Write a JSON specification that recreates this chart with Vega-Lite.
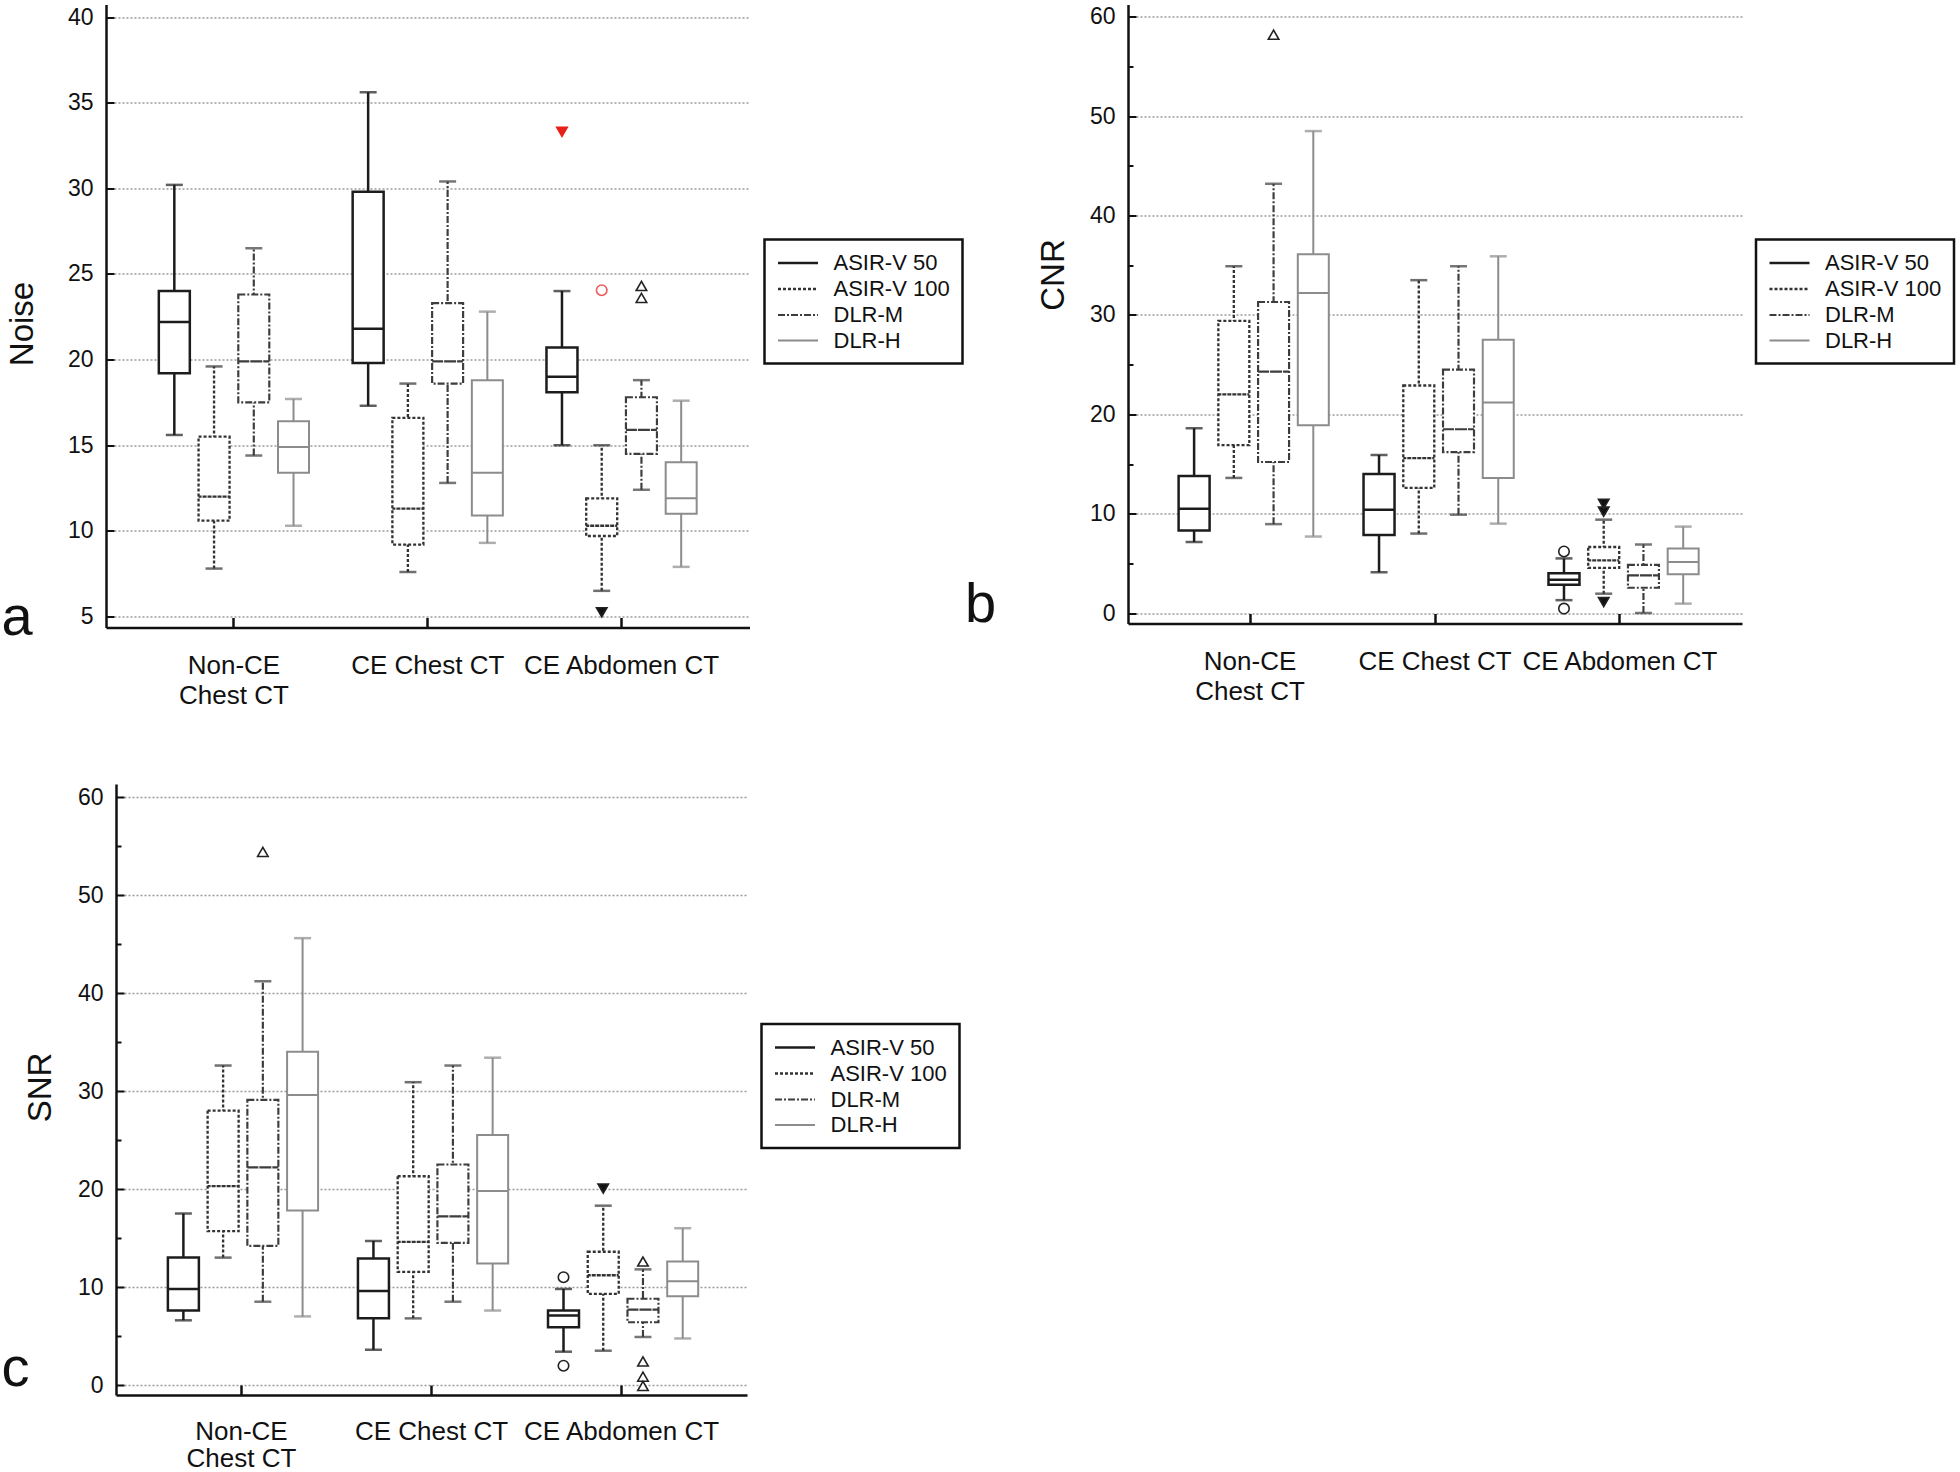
{
  "$schema": "https://vega.github.io/schema/vega-lite/v6.json",
  "background": "white",
  "padding": {"left": 1, "top": 4.5, "right": 0, "bottom": 0},
  "datasets": {
    "boxes": [
      {"panel": "a", "group": "Non-CE Chest CT", "method": "ASIR-V 50", "lo": 15.6, "q1": 19.2, "med": 22.2, "q3": 24.0, "hi": 30.2},
      {"panel": "a", "group": "Non-CE Chest CT", "method": "ASIR-V 100", "lo": 7.8, "q1": 10.6, "med": 12.0, "q3": 15.5, "hi": 19.6},
      {"panel": "a", "group": "Non-CE Chest CT", "method": "DLR-M", "lo": 14.4, "q1": 17.5, "med": 19.9, "q3": 23.8, "hi": 26.5},
      {"panel": "a", "group": "Non-CE Chest CT", "method": "DLR-H", "lo": 10.3, "q1": 13.4, "med": 14.9, "q3": 16.4, "hi": 17.7},
      {"panel": "a", "group": "CE Chest CT", "method": "ASIR-V 50", "lo": 17.3, "q1": 19.8, "med": 21.8, "q3": 29.8, "hi": 35.6},
      {"panel": "a", "group": "CE Chest CT", "method": "ASIR-V 100", "lo": 7.6, "q1": 9.2, "med": 11.3, "q3": 16.6, "hi": 18.6},
      {"panel": "a", "group": "CE Chest CT", "method": "DLR-M", "lo": 12.8, "q1": 18.6, "med": 19.9, "q3": 23.3, "hi": 30.4},
      {"panel": "a", "group": "CE Chest CT", "method": "DLR-H", "lo": 9.3, "q1": 10.9, "med": 13.4, "q3": 18.8, "hi": 22.8},
      {"panel": "a", "group": "CE Abdomen CT", "method": "ASIR-V 50", "lo": 15.0, "q1": 18.1, "med": 19.0, "q3": 20.7, "hi": 24.0},
      {"panel": "a", "group": "CE Abdomen CT", "method": "ASIR-V 100", "lo": 6.5, "q1": 9.7, "med": 10.3, "q3": 11.9, "hi": 15.0},
      {"panel": "a", "group": "CE Abdomen CT", "method": "DLR-M", "lo": 12.4, "q1": 14.5, "med": 15.9, "q3": 17.8, "hi": 18.8},
      {"panel": "a", "group": "CE Abdomen CT", "method": "DLR-H", "lo": 7.9, "q1": 11.0, "med": 11.9, "q3": 14.0, "hi": 17.6},

      {"panel": "b", "group": "Non-CE Chest CT", "method": "ASIR-V 50", "lo": 7.15, "q1": 8.3, "med": 10.5, "q3": 13.8, "hi": 18.6},
      {"panel": "b", "group": "Non-CE Chest CT", "method": "ASIR-V 100", "lo": 13.6, "q1": 16.9, "med": 22.0, "q3": 29.4, "hi": 34.9},
      {"panel": "b", "group": "Non-CE Chest CT", "method": "DLR-M", "lo": 8.95, "q1": 15.2, "med": 24.3, "q3": 31.3, "hi": 43.2},
      {"panel": "b", "group": "Non-CE Chest CT", "method": "DLR-H", "lo": 7.7, "q1": 18.9, "med": 32.2, "q3": 36.1, "hi": 48.5},
      {"panel": "b", "group": "CE Chest CT", "method": "ASIR-V 50", "lo": 4.1, "q1": 7.85, "med": 10.4, "q3": 14.0, "hi": 15.9},
      {"panel": "b", "group": "CE Chest CT", "method": "ASIR-V 100", "lo": 8.0, "q1": 12.6, "med": 15.6, "q3": 22.9, "hi": 33.5},
      {"panel": "b", "group": "CE Chest CT", "method": "DLR-M", "lo": 9.9, "q1": 16.2, "med": 18.5, "q3": 24.5, "hi": 34.9},
      {"panel": "b", "group": "CE Chest CT", "method": "DLR-H", "lo": 9.0, "q1": 13.6, "med": 21.2, "q3": 27.5, "hi": 35.9},
      {"panel": "b", "group": "CE Abdomen CT", "method": "ASIR-V 50", "lo": 1.3, "q1": 2.85, "med": 3.35, "q3": 4.0, "hi": 5.5},
      {"panel": "b", "group": "CE Abdomen CT", "method": "ASIR-V 100", "lo": 1.95, "q1": 4.55, "med": 5.3, "q3": 6.65, "hi": 9.4},
      {"panel": "b", "group": "CE Abdomen CT", "method": "DLR-M", "lo": 0.0, "q1": 2.55, "med": 3.8, "q3": 4.85, "hi": 6.9},
      {"panel": "b", "group": "CE Abdomen CT", "method": "DLR-H", "lo": 0.95, "q1": 3.9, "med": 5.15, "q3": 6.5, "hi": 8.7},

      {"panel": "c", "group": "Non-CE Chest CT", "method": "ASIR-V 50", "lo": 6.6, "q1": 7.6, "med": 9.8, "q3": 13.0, "hi": 17.5},
      {"panel": "c", "group": "Non-CE Chest CT", "method": "ASIR-V 100", "lo": 13.0, "q1": 15.7, "med": 20.3, "q3": 28.0, "hi": 32.6},
      {"panel": "c", "group": "Non-CE Chest CT", "method": "DLR-M", "lo": 8.5, "q1": 14.2, "med": 22.2, "q3": 29.1, "hi": 41.2},
      {"panel": "c", "group": "Non-CE Chest CT", "method": "DLR-H", "lo": 7.0, "q1": 17.8, "med": 29.6, "q3": 34.0, "hi": 45.6},
      {"panel": "c", "group": "CE Chest CT", "method": "ASIR-V 50", "lo": 3.6, "q1": 6.8, "med": 9.6, "q3": 12.9, "hi": 14.7},
      {"panel": "c", "group": "CE Chest CT", "method": "ASIR-V 100", "lo": 6.8, "q1": 11.55, "med": 14.6, "q3": 21.3, "hi": 30.9},
      {"panel": "c", "group": "CE Chest CT", "method": "DLR-M", "lo": 8.5, "q1": 14.5, "med": 17.2, "q3": 22.5, "hi": 32.6},
      {"panel": "c", "group": "CE Chest CT", "method": "DLR-H", "lo": 7.6, "q1": 12.4, "med": 19.8, "q3": 25.5, "hi": 33.4},
      {"panel": "c", "group": "CE Abdomen CT", "method": "ASIR-V 50", "lo": 3.4, "q1": 5.9, "med": 7.1, "q3": 7.6, "hi": 9.8},
      {"panel": "c", "group": "CE Abdomen CT", "method": "ASIR-V 100", "lo": 3.5, "q1": 9.3, "med": 11.2, "q3": 13.6, "hi": 18.3},
      {"panel": "c", "group": "CE Abdomen CT", "method": "DLR-M", "lo": 4.9, "q1": 6.4, "med": 7.7, "q3": 8.8, "hi": 11.8},
      {"panel": "c", "group": "CE Abdomen CT", "method": "DLR-H", "lo": 4.75, "q1": 9.05, "med": 10.6, "q3": 12.6, "hi": 16.0}
    ],
    "outliers": [
      {"panel": "a", "group": "CE Abdomen CT", "method": "ASIR-V 50", "value": 33.3, "sym": "redtri"},
      {"panel": "a", "group": "CE Abdomen CT", "method": "ASIR-V 100", "value": 24.05, "sym": "redcircle"},
      {"panel": "a", "group": "CE Abdomen CT", "method": "ASIR-V 100", "value": 5.25, "sym": "tridown"},
      {"panel": "a", "group": "CE Abdomen CT", "method": "DLR-M", "value": 24.3, "sym": "triup"},
      {"panel": "a", "group": "CE Abdomen CT", "method": "DLR-M", "value": 23.6, "sym": "triup"},
      {"panel": "b", "group": "Non-CE Chest CT", "method": "DLR-M", "value": 58.2, "sym": "triup"},
      {"panel": "b", "group": "CE Abdomen CT", "method": "ASIR-V 50", "value": 6.2, "sym": "circle"},
      {"panel": "b", "group": "CE Abdomen CT", "method": "ASIR-V 50", "value": 0.45, "sym": "circle"},
      {"panel": "b", "group": "CE Abdomen CT", "method": "ASIR-V 100", "value": 10.2, "sym": "tridown"},
      {"panel": "b", "group": "CE Abdomen CT", "method": "ASIR-V 100", "value": 11.0, "sym": "tridown"},
      {"panel": "b", "group": "CE Abdomen CT", "method": "ASIR-V 100", "value": 1.1, "sym": "tridown"},
      {"panel": "c", "group": "Non-CE Chest CT", "method": "DLR-M", "value": 54.4, "sym": "triup"},
      {"panel": "c", "group": "CE Abdomen CT", "method": "ASIR-V 50", "value": 11.0, "sym": "circle"},
      {"panel": "c", "group": "CE Abdomen CT", "method": "ASIR-V 50", "value": 1.97, "sym": "circle"},
      {"panel": "c", "group": "CE Abdomen CT", "method": "ASIR-V 100", "value": 20.05, "sym": "tridown"},
      {"panel": "c", "group": "CE Abdomen CT", "method": "DLR-M", "value": 12.6, "sym": "triup"},
      {"panel": "c", "group": "CE Abdomen CT", "method": "DLR-M", "value": 2.4, "sym": "triup"},
      {"panel": "c", "group": "CE Abdomen CT", "method": "DLR-M", "value": 0.85, "sym": "triup"},
      {"panel": "c", "group": "CE Abdomen CT", "method": "DLR-M", "value": -0.1, "sym": "triup"}
    ]
  },
  "spacing": 75.5,
  "resolve": {
    "scale": {"stroke": "independent", "strokeDash": "independent", "strokeWidth": "independent", "fill": "independent"},
    "legend": {"stroke": "independent", "strokeDash": "independent", "strokeWidth": "independent"}
  },
  "vconcat": [
    {
      "bounds": "flush",
      "spacing": 378,
      "resolve": {
        "scale": {"stroke": "independent", "strokeDash": "independent", "strokeWidth": "independent", "fill": "independent"},
        "legend": {"stroke": "independent", "strokeDash": "independent", "strokeWidth": "independent"}
      },
      "hconcat": [
        {
          "width": 643.5,
          "height": 623,
          "title": {"text": "a", "orient": "top", "anchor": "start", "frame": "group", "fontSize": 56, "fontWeight": "normal", "color": "#111", "baseline": "alphabetic", "offset": 0, "dx": -104.5, "dy": 686},
          "encoding": {
            "x": {"field": "group", "type": "nominal", "sort": ["Non-CE Chest CT", "CE Chest CT", "CE Abdomen CT"], "scale": {"paddingInner": 0.18, "paddingOuter": 0.25}, "axis": {"title": null, "labelExpr": "datum.label == 'Non-CE Chest CT' ? ['Non-CE', 'Chest CT'] : datum.label"}},
            "xOffset": {"field": "method", "type": "nominal", "sort": ["ASIR-V 50", "ASIR-V 100", "DLR-M", "DLR-H"], "scale": {"paddingInner": 0.22, "paddingOuter": 0.11}}
          },
          "resolve": {"axis": {"y": "independent"}},
          "layer": [
            {
              "data": {"name": "boxes"}, "transform": [{"filter": "datum.panel == 'a'"}],
              "mark": {"type": "rule"},
              "encoding": {
                "y": {"field": "lo", "type": "quantitative", "scale": {"domain": [4.36, 40.73], "nice": false, "zero": false}, "axis": {"values": [5, 10, 15, 20, 25, 30, 35, 40], "format": "d", "grid": true, "title": "Noise", "titleX": -83.5, "titleY": 319, "titleBaseline": "middle"}},
                "y2": {"field": "hi"},
                "stroke": {"field": "method", "type": "nominal", "scale": {"domain": ["ASIR-V 50", "ASIR-V 100", "DLR-M", "DLR-H"], "range": ["#1c1c1c", "#333333", "#3d3d3d", "#8c8c8c"]}, "legend": {"title": null, "legendX": 658.5, "legendY": 235}},
                "strokeDash": {"field": "method", "type": "nominal", "scale": {"domain": ["ASIR-V 50", "ASIR-V 100", "DLR-M", "DLR-H"], "range": [[1, 0], [3, 2], [7, 2, 2, 2], [1, 0]]}, "legend": {"title": null, "legendX": 658.5, "legendY": 235}},
                "strokeWidth": {"field": "method", "type": "ordinal", "scale": {"domain": ["ASIR-V 50", "ASIR-V 100", "DLR-M", "DLR-H"], "range": [2.5, 2, 2, 1.6]}, "legend": {"title": null, "legendX": 658.5, "legendY": 235}}
              }
            },
            {
              "data": {"name": "boxes"}, "transform": [{"filter": "datum.panel == 'a'"}],
              "mark": {"type": "tick", "thickness": 2.5},
              "encoding": {
                "y": {"field": "lo", "type": "quantitative", "scale": {"domain": [4.36, 40.73], "nice": false, "zero": false}, "axis": null},
                "fill": {"field": "method", "type": "nominal", "scale": {"domain": ["ASIR-V 50", "ASIR-V 100", "DLR-M", "DLR-H"], "range": ["#1c1c1c", "#333333", "#3d3d3d", "#8c8c8c"]}, "legend": null},
                "size": {"value": 17}
              }
            },
            {
              "data": {"name": "boxes"}, "transform": [{"filter": "datum.panel == 'a'"}],
              "mark": {"type": "tick", "thickness": 2.5},
              "encoding": {
                "y": {"field": "hi", "type": "quantitative", "scale": {"domain": [4.36, 40.73], "nice": false, "zero": false}, "axis": null},
                "fill": {"field": "method", "type": "nominal", "scale": {"domain": ["ASIR-V 50", "ASIR-V 100", "DLR-M", "DLR-H"], "range": ["#1c1c1c", "#333333", "#3d3d3d", "#8c8c8c"]}, "legend": null},
                "size": {"value": 17}
              }
            },
            {
              "data": {"name": "boxes"}, "transform": [{"filter": "datum.panel == 'a'"}],
              "mark": {"type": "bar", "fill": "white"},
              "encoding": {
                "y": {"field": "q1", "type": "quantitative", "scale": {"domain": [4.36, 40.73], "nice": false, "zero": false}, "axis": null},
                "y2": {"field": "q3"},
                "stroke": {"field": "method", "type": "nominal", "scale": {"domain": ["ASIR-V 50", "ASIR-V 100", "DLR-M", "DLR-H"], "range": ["#1c1c1c", "#333333", "#3d3d3d", "#8c8c8c"]}, "legend": null},
                "strokeDash": {"field": "method", "type": "nominal", "scale": {"domain": ["ASIR-V 50", "ASIR-V 100", "DLR-M", "DLR-H"], "range": [[1, 0], [3, 2], [7, 2, 2, 2], [1, 0]]}, "legend": null},
                "strokeWidth": {"field": "method", "type": "ordinal", "scale": {"domain": ["ASIR-V 50", "ASIR-V 100", "DLR-M", "DLR-H"], "range": [2.5, 2, 2, 1.6]}, "legend": null}
              }
            },
            {
              "data": {"name": "boxes"}, "transform": [{"filter": "datum.panel == 'a'"}],
              "mark": {"type": "bar", "fill": "white"},
              "encoding": {
                "y": {"field": "med", "type": "quantitative", "scale": {"domain": [4.36, 40.73], "nice": false, "zero": false}, "axis": null},
                "y2": {"field": "med"},
                "stroke": {"field": "method", "type": "nominal", "scale": {"domain": ["ASIR-V 50", "ASIR-V 100", "DLR-M", "DLR-H"], "range": ["#1c1c1c", "#333333", "#3d3d3d", "#8c8c8c"]}, "legend": null},
                "strokeDash": {"field": "method", "type": "nominal", "scale": {"domain": ["ASIR-V 50", "ASIR-V 100", "DLR-M", "DLR-H"], "range": [[1, 0], [3, 2], [7, 2, 2, 2], [1, 0]]}, "legend": null},
                "strokeWidth": {"field": "method", "type": "ordinal", "scale": {"domain": ["ASIR-V 50", "ASIR-V 100", "DLR-M", "DLR-H"], "range": [2.5, 2, 2, 1.6]}, "legend": null}
              }
            },
            {
              "data": {"name": "outliers"}, "transform": [{"filter": "datum.panel == 'a'"}],
              "mark": {"type": "point", "size": 110, "strokeWidth": 1.6, "opacity": 1},
              "encoding": {
                "y": {"field": "value", "type": "quantitative", "scale": {"domain": [4.36, 40.73], "nice": false, "zero": false}, "axis": null},
                "shape": {"condition": [{"test": "datum.sym == 'tridown' || datum.sym == 'redtri'", "value": "triangle-down"}, {"test": "datum.sym == 'triup'", "value": "triangle-up"}], "value": "circle"},
                "fill": {"condition": [{"test": "datum.sym == 'tridown'", "value": "#111111"}, {"test": "datum.sym == 'redtri'", "value": "#e8201a"}], "value": "white"},
                "stroke": {"condition": [{"test": "datum.sym == 'redtri'", "value": "#e8201a"}, {"test": "datum.sym == 'redcircle'", "value": "#f05a5a"}], "value": "#222222"}
              }
            }
          ]
        },
        {
          "width": 614,
          "height": 619,
          "title": {"text": "b", "orient": "top", "anchor": "start", "frame": "group", "fontSize": 56, "fontWeight": "normal", "color": "#111", "baseline": "alphabetic", "offset": 0, "dx": -163, "dy": 673},
          "encoding": {
            "x": {"field": "group", "type": "nominal", "sort": ["Non-CE Chest CT", "CE Chest CT", "CE Abdomen CT"], "scale": {"paddingInner": 0.18, "paddingOuter": 0.25}, "axis": {"title": null, "labelExpr": "datum.label == 'Non-CE Chest CT' ? ['Non-CE', 'Chest CT'] : datum.label"}},
            "xOffset": {"field": "method", "type": "nominal", "sort": ["ASIR-V 50", "ASIR-V 100", "DLR-M", "DLR-H"], "scale": {"paddingInner": 0.22, "paddingOuter": 0.11}}
          },
          "resolve": {"axis": {"y": "independent"}},
          "layer": [
            {
              "data": {"name": "boxes"}, "transform": [{"filter": "datum.panel == 'b'"}],
              "mark": {"type": "rule"},
              "encoding": {
                "y": {"field": "lo", "type": "quantitative", "scale": {"domain": [-1.05, 61.24], "nice": false, "zero": false}, "axis": {"values": [0, 10, 20, 30, 40, 50, 60], "format": "d", "grid": true, "title": "CNR", "titleX": -75, "titleY": 270, "titleBaseline": "middle"}},
                "y2": {"field": "hi"},
                "stroke": {"field": "method", "type": "nominal", "scale": {"domain": ["ASIR-V 50", "ASIR-V 100", "DLR-M", "DLR-H"], "range": ["#1c1c1c", "#333333", "#3d3d3d", "#8c8c8c"]}, "legend": {"title": null, "legendX": 628, "legendY": 235}},
                "strokeDash": {"field": "method", "type": "nominal", "scale": {"domain": ["ASIR-V 50", "ASIR-V 100", "DLR-M", "DLR-H"], "range": [[1, 0], [3, 2], [7, 2, 2, 2], [1, 0]]}, "legend": {"title": null, "legendX": 628, "legendY": 235}},
                "strokeWidth": {"field": "method", "type": "ordinal", "scale": {"domain": ["ASIR-V 50", "ASIR-V 100", "DLR-M", "DLR-H"], "range": [2.5, 2, 2, 1.6]}, "legend": {"title": null, "legendX": 628, "legendY": 235}}
              }
            },
            {
              "data": {"name": "boxes"}, "transform": [{"filter": "datum.panel == 'b'"}],
              "mark": {"type": "tick", "thickness": 2.5},
              "encoding": {
                "y": {"field": "lo", "type": "quantitative", "scale": {"domain": [-1.05, 61.24], "nice": false, "zero": false}, "axis": {"values": [5, 15, 25, 35, 45, 55], "labels": false, "grid": false, "domain": false, "tickSize": -5, "title": null, "orient": "left"}},
                "fill": {"field": "method", "type": "nominal", "scale": {"domain": ["ASIR-V 50", "ASIR-V 100", "DLR-M", "DLR-H"], "range": ["#1c1c1c", "#333333", "#3d3d3d", "#8c8c8c"]}, "legend": null},
                "size": {"value": 17}
              }
            },
            {
              "data": {"name": "boxes"}, "transform": [{"filter": "datum.panel == 'b'"}],
              "mark": {"type": "tick", "thickness": 2.5},
              "encoding": {
                "y": {"field": "hi", "type": "quantitative", "scale": {"domain": [-1.05, 61.24], "nice": false, "zero": false}, "axis": null},
                "fill": {"field": "method", "type": "nominal", "scale": {"domain": ["ASIR-V 50", "ASIR-V 100", "DLR-M", "DLR-H"], "range": ["#1c1c1c", "#333333", "#3d3d3d", "#8c8c8c"]}, "legend": null},
                "size": {"value": 17}
              }
            },
            {
              "data": {"name": "boxes"}, "transform": [{"filter": "datum.panel == 'b'"}],
              "mark": {"type": "bar", "fill": "white"},
              "encoding": {
                "y": {"field": "q1", "type": "quantitative", "scale": {"domain": [-1.05, 61.24], "nice": false, "zero": false}, "axis": null},
                "y2": {"field": "q3"},
                "stroke": {"field": "method", "type": "nominal", "scale": {"domain": ["ASIR-V 50", "ASIR-V 100", "DLR-M", "DLR-H"], "range": ["#1c1c1c", "#333333", "#3d3d3d", "#8c8c8c"]}, "legend": null},
                "strokeDash": {"field": "method", "type": "nominal", "scale": {"domain": ["ASIR-V 50", "ASIR-V 100", "DLR-M", "DLR-H"], "range": [[1, 0], [3, 2], [7, 2, 2, 2], [1, 0]]}, "legend": null},
                "strokeWidth": {"field": "method", "type": "ordinal", "scale": {"domain": ["ASIR-V 50", "ASIR-V 100", "DLR-M", "DLR-H"], "range": [2.5, 2, 2, 1.6]}, "legend": null}
              }
            },
            {
              "data": {"name": "boxes"}, "transform": [{"filter": "datum.panel == 'b'"}],
              "mark": {"type": "bar", "fill": "white"},
              "encoding": {
                "y": {"field": "med", "type": "quantitative", "scale": {"domain": [-1.05, 61.24], "nice": false, "zero": false}, "axis": null},
                "y2": {"field": "med"},
                "stroke": {"field": "method", "type": "nominal", "scale": {"domain": ["ASIR-V 50", "ASIR-V 100", "DLR-M", "DLR-H"], "range": ["#1c1c1c", "#333333", "#3d3d3d", "#8c8c8c"]}, "legend": null},
                "strokeDash": {"field": "method", "type": "nominal", "scale": {"domain": ["ASIR-V 50", "ASIR-V 100", "DLR-M", "DLR-H"], "range": [[1, 0], [3, 2], [7, 2, 2, 2], [1, 0]]}, "legend": null},
                "strokeWidth": {"field": "method", "type": "ordinal", "scale": {"domain": ["ASIR-V 50", "ASIR-V 100", "DLR-M", "DLR-H"], "range": [2.5, 2, 2, 1.6]}, "legend": null}
              }
            },
            {
              "data": {"name": "outliers"}, "transform": [{"filter": "datum.panel == 'b'"}],
              "mark": {"type": "point", "size": 110, "strokeWidth": 1.6, "opacity": 1},
              "encoding": {
                "y": {"field": "value", "type": "quantitative", "scale": {"domain": [-1.05, 61.24], "nice": false, "zero": false}, "axis": null},
                "shape": {"condition": [{"test": "datum.sym == 'tridown' || datum.sym == 'redtri'", "value": "triangle-down"}, {"test": "datum.sym == 'triup'", "value": "triangle-up"}], "value": "circle"},
                "fill": {"condition": [{"test": "datum.sym == 'tridown'", "value": "#111111"}, {"test": "datum.sym == 'redtri'", "value": "#e8201a"}], "value": "white"},
                "stroke": {"condition": [{"test": "datum.sym == 'redtri'", "value": "#e8201a"}, {"test": "datum.sym == 'redcircle'", "value": "#f05a5a"}], "value": "#222222"}
              }
            }
          ]
        }
      ]
    },
    {
      "bounds": "flush",
      "spacing": 0,
      "resolve": {
        "scale": {"stroke": "independent", "strokeDash": "independent", "strokeWidth": "independent", "fill": "independent"},
        "legend": {"stroke": "independent", "strokeDash": "independent", "strokeWidth": "independent"}
      },
      "hconcat": [
        {"width": 10, "height": 10, "data": {"values": []}, "mark": "point"},
        {
          "width": 631,
          "height": 611,
          "title": {"text": "c", "orient": "top", "anchor": "start", "frame": "group", "fontSize": 56, "fontWeight": "normal", "color": "#111", "baseline": "alphabetic", "offset": 0, "dx": -114.5, "dy": 658},
          "encoding": {
            "x": {"field": "group", "type": "nominal", "sort": ["Non-CE Chest CT", "CE Chest CT", "CE Abdomen CT"], "scale": {"paddingInner": 0.18, "paddingOuter": 0.25}, "axis": {"title": null, "labelPadding": 33, "labelLineHeight": 27, "labelExpr": "datum.label == 'Non-CE Chest CT' ? ['Non-CE', 'Chest CT'] : datum.label"}},
            "xOffset": {"field": "method", "type": "nominal", "sort": ["ASIR-V 50", "ASIR-V 100", "DLR-M", "DLR-H"], "scale": {"paddingInner": 0.22, "paddingOuter": 0.11}}
          },
          "resolve": {"axis": {"y": "independent"}},
          "layer": [
            {
              "data": {"name": "boxes"}, "transform": [{"filter": "datum.panel == 'c'"}],
              "mark": {"type": "rule"},
              "encoding": {
                "y": {"field": "lo", "type": "quantitative", "scale": {"domain": [-1.02, 61.33], "nice": false, "zero": false}, "axis": {"values": [0, 10, 20, 30, 40, 50, 60], "format": "d", "grid": true, "title": "SNR", "titleX": -75.5, "titleY": 303, "titleBaseline": "middle"}},
                "y2": {"field": "hi"},
                "stroke": {"field": "method", "type": "nominal", "scale": {"domain": ["ASIR-V 50", "ASIR-V 100", "DLR-M", "DLR-H"], "range": ["#1c1c1c", "#333333", "#3d3d3d", "#8c8c8c"]}, "legend": {"title": null, "legendX": 645.5, "legendY": 240}},
                "strokeDash": {"field": "method", "type": "nominal", "scale": {"domain": ["ASIR-V 50", "ASIR-V 100", "DLR-M", "DLR-H"], "range": [[1, 0], [3, 2], [7, 2, 2, 2], [1, 0]]}, "legend": {"title": null, "legendX": 645.5, "legendY": 240}},
                "strokeWidth": {"field": "method", "type": "ordinal", "scale": {"domain": ["ASIR-V 50", "ASIR-V 100", "DLR-M", "DLR-H"], "range": [2.5, 2, 2, 1.6]}, "legend": {"title": null, "legendX": 645.5, "legendY": 240}}
              }
            },
            {
              "data": {"name": "boxes"}, "transform": [{"filter": "datum.panel == 'c'"}],
              "mark": {"type": "tick", "thickness": 2.5},
              "encoding": {
                "y": {"field": "lo", "type": "quantitative", "scale": {"domain": [-1.02, 61.33], "nice": false, "zero": false}, "axis": {"values": [5, 15, 25, 35, 45, 55], "labels": false, "grid": false, "domain": false, "tickSize": -5, "title": null, "orient": "left"}},
                "fill": {"field": "method", "type": "nominal", "scale": {"domain": ["ASIR-V 50", "ASIR-V 100", "DLR-M", "DLR-H"], "range": ["#1c1c1c", "#333333", "#3d3d3d", "#8c8c8c"]}, "legend": null},
                "size": {"value": 17}
              }
            },
            {
              "data": {"name": "boxes"}, "transform": [{"filter": "datum.panel == 'c'"}],
              "mark": {"type": "tick", "thickness": 2.5},
              "encoding": {
                "y": {"field": "hi", "type": "quantitative", "scale": {"domain": [-1.02, 61.33], "nice": false, "zero": false}, "axis": null},
                "fill": {"field": "method", "type": "nominal", "scale": {"domain": ["ASIR-V 50", "ASIR-V 100", "DLR-M", "DLR-H"], "range": ["#1c1c1c", "#333333", "#3d3d3d", "#8c8c8c"]}, "legend": null},
                "size": {"value": 17}
              }
            },
            {
              "data": {"name": "boxes"}, "transform": [{"filter": "datum.panel == 'c'"}],
              "mark": {"type": "bar", "fill": "white"},
              "encoding": {
                "y": {"field": "q1", "type": "quantitative", "scale": {"domain": [-1.02, 61.33], "nice": false, "zero": false}, "axis": null},
                "y2": {"field": "q3"},
                "stroke": {"field": "method", "type": "nominal", "scale": {"domain": ["ASIR-V 50", "ASIR-V 100", "DLR-M", "DLR-H"], "range": ["#1c1c1c", "#333333", "#3d3d3d", "#8c8c8c"]}, "legend": null},
                "strokeDash": {"field": "method", "type": "nominal", "scale": {"domain": ["ASIR-V 50", "ASIR-V 100", "DLR-M", "DLR-H"], "range": [[1, 0], [3, 2], [7, 2, 2, 2], [1, 0]]}, "legend": null},
                "strokeWidth": {"field": "method", "type": "ordinal", "scale": {"domain": ["ASIR-V 50", "ASIR-V 100", "DLR-M", "DLR-H"], "range": [2.5, 2, 2, 1.6]}, "legend": null}
              }
            },
            {
              "data": {"name": "boxes"}, "transform": [{"filter": "datum.panel == 'c'"}],
              "mark": {"type": "bar", "fill": "white"},
              "encoding": {
                "y": {"field": "med", "type": "quantitative", "scale": {"domain": [-1.02, 61.33], "nice": false, "zero": false}, "axis": null},
                "y2": {"field": "med"},
                "stroke": {"field": "method", "type": "nominal", "scale": {"domain": ["ASIR-V 50", "ASIR-V 100", "DLR-M", "DLR-H"], "range": ["#1c1c1c", "#333333", "#3d3d3d", "#8c8c8c"]}, "legend": null},
                "strokeDash": {"field": "method", "type": "nominal", "scale": {"domain": ["ASIR-V 50", "ASIR-V 100", "DLR-M", "DLR-H"], "range": [[1, 0], [3, 2], [7, 2, 2, 2], [1, 0]]}, "legend": null},
                "strokeWidth": {"field": "method", "type": "ordinal", "scale": {"domain": ["ASIR-V 50", "ASIR-V 100", "DLR-M", "DLR-H"], "range": [2.5, 2, 2, 1.6]}, "legend": null}
              }
            },
            {
              "data": {"name": "outliers"}, "transform": [{"filter": "datum.panel == 'c'"}],
              "mark": {"type": "point", "size": 110, "strokeWidth": 1.6, "opacity": 1},
              "encoding": {
                "y": {"field": "value", "type": "quantitative", "scale": {"domain": [-1.02, 61.33], "nice": false, "zero": false}, "axis": null},
                "shape": {"condition": [{"test": "datum.sym == 'tridown' || datum.sym == 'redtri'", "value": "triangle-down"}, {"test": "datum.sym == 'triup'", "value": "triangle-up"}], "value": "circle"},
                "fill": {"condition": [{"test": "datum.sym == 'tridown'", "value": "#111111"}, {"test": "datum.sym == 'redtri'", "value": "#e8201a"}], "value": "white"},
                "stroke": {"condition": [{"test": "datum.sym == 'redtri'", "value": "#e8201a"}, {"test": "datum.sym == 'redcircle'", "value": "#f05a5a"}], "value": "#222222"}
              }
            }
          ]
        }
      ]
    }
  ],
  "config": {
    "font": "Liberation Sans",
    "view": {"stroke": null},
    "axis": {"domainColor": "#111111", "domainWidth": 2.5, "tickColor": "#111111", "tickWidth": 2, "labelColor": "#111111", "titleColor": "#111111", "labelFont": "Liberation Sans", "titleFont": "Liberation Sans", "titleFontWeight": "normal", "gridColor": "#9a9a9a", "gridDash": [2, 2], "gridWidth": 1.5, "labelLimit": 400},
    "axisX": {"labelFontSize": 26, "labelAngle": 0, "tickSize": -10, "tickWidth": 2.5, "labelPadding": 35, "labelLineHeight": 30, "grid": false},
    "axisY": {"labelFontSize": 23, "titleFontSize": 33, "tickSize": -8, "labelPadding": 21},
    "legend": {"orient": "none", "symbolType": "M-1,0H3", "symbolSize": 400, "labelFont": "Liberation Sans", "labelFontSize": 22, "labelColor": "#111111", "padding": 12, "rowPadding": 3, "labelOffset": 34, "strokeColor": "#111111", "strokeWidth": 2.5, "fillColor": "white"},
    "title": {"font": "Liberation Sans"}
  }
}
